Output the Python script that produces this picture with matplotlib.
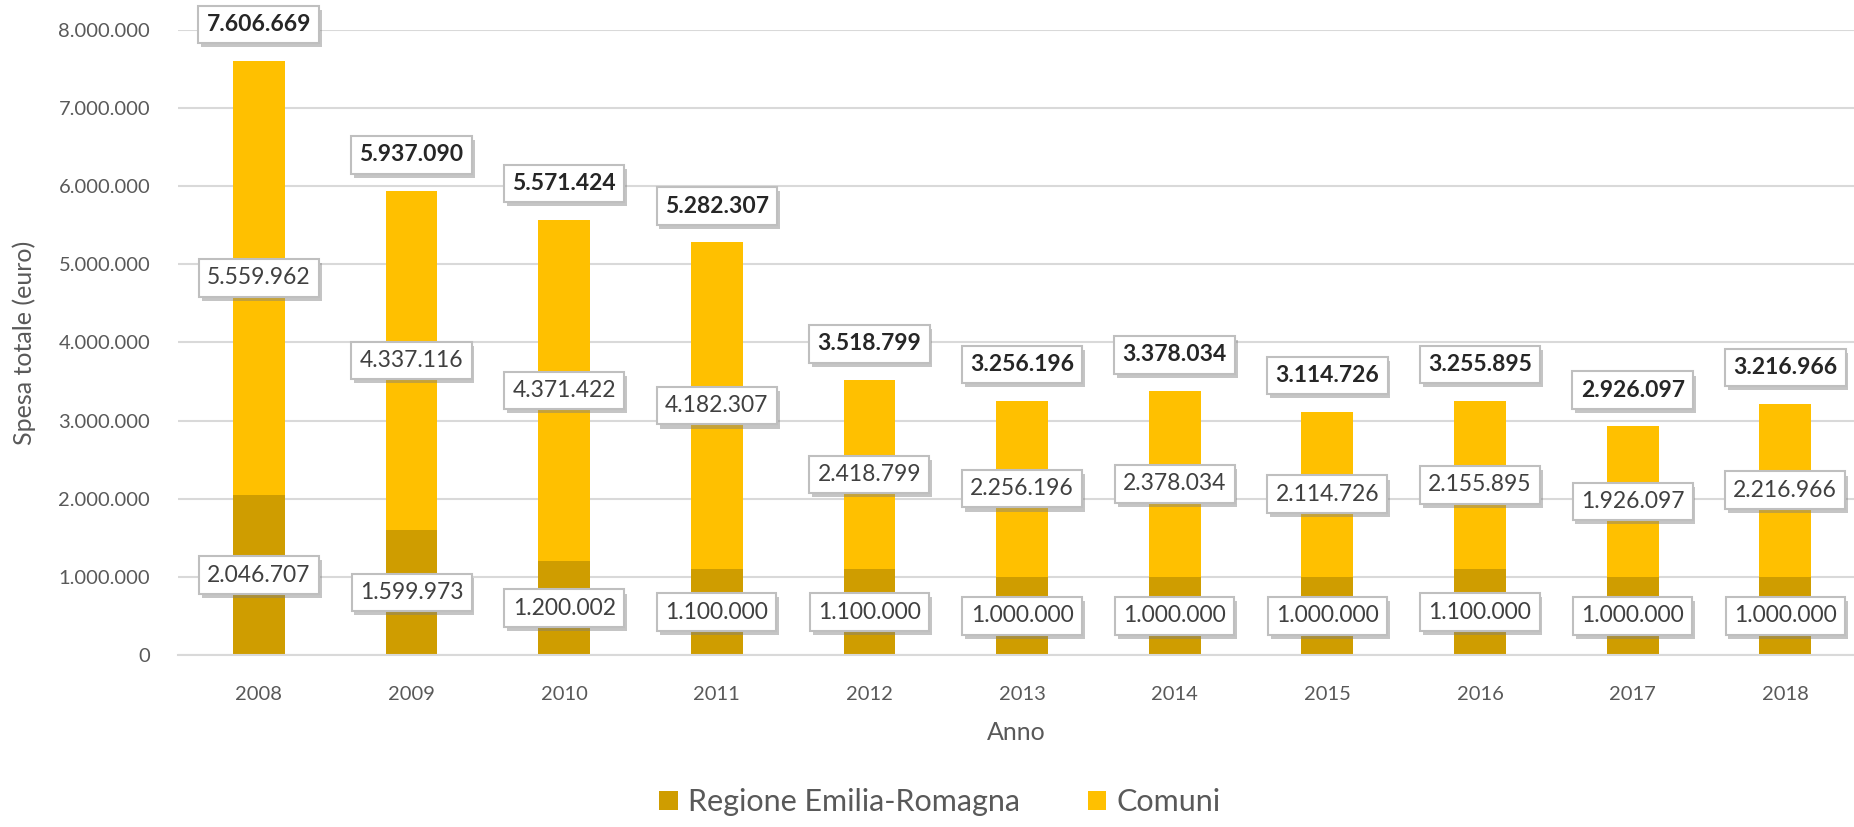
import matplotlib.pyplot as plt
import matplotlib.patheffects as pe
import numpy as np
from matplotlib.ticker import FuncFormatter

plt.rcParams['font.family'] = ['Lato', 'DejaVu Sans']

# dati
anni = ['2008', '2009', '2010', '2011', '2012', '2013', '2014', '2015', '2016', '2017', '2018']
regione = [2046707, 1599973, 1200002, 1100000, 1100000, 1000000, 1000000, 1000000, 1100000, 1000000, 1000000]
comuni = [5559962, 4337116, 4371422, 4182307, 2418799, 2256196, 2378034, 2114726, 2155895, 1926097, 2216966]
totali = [7606669, 5937090, 5571424, 5282307, 3518799, 3256196, 3378034, 3114726, 3255895, 2926097, 3216966]

col_reg = '#CF9D00'
col_com = '#FFC000'
grigio = '#595959'


def fmt(v):
    return f"{int(round(v)):,}".replace(',', '.')


x = np.arange(len(anni))
reg = np.array(regione)
com = np.array(comuni)

fig = plt.figure(figsize=(18.54, 8.27), dpi=100)
ax = fig.add_axes([0.096, 0.208, 0.904, 0.756])

ax.bar(x, reg, width=0.34, color=col_reg, label='Regione Emilia-Romagna', zorder=2)
ax.bar(x, com, width=0.34, bottom=reg, color=col_com, label='Comuni', zorder=2)

ax.set_ylim(0, 8000000)
ax.set_xlim(-0.53, 10.45)
ax.set_yticks(np.arange(0, 8000001, 1000000))
ax.yaxis.set_major_formatter(FuncFormatter(lambda v, p: fmt(v)))
ax.set_xticks(x)
ax.set_xticklabels(anni)
ax.tick_params(axis='both', length=0, labelsize=14.5, colors=grigio)
ax.tick_params(axis='x', pad=22)
ax.tick_params(axis='y', pad=20)
ax.grid(axis='y', color='#D9D9D9', linewidth=1.5, zorder=0)
for s in ['top', 'right', 'left']:
    ax.spines[s].set_visible(False)
ax.spines['bottom'].set_color('#D9D9D9')
ax.spines['bottom'].set_linewidth(1.5)

ax.set_ylabel('Spesa totale (euro)', fontsize=18, color=grigio, labelpad=16)
ax.set_xlabel('Anno', fontsize=18, color=grigio, labelpad=13)

shadow = [pe.SimplePatchShadow(offset=(2, -3), shadow_rgbFace='#7F7F7F', alpha=0.45), pe.Normal()]


def etichetta(xx, yy, testo, bold=False, dy=0):
    t = ax.annotate(testo, (xx, yy), xytext=(0, dy), textcoords='offset points',
                    ha='center', va='center', fontsize=16.5,
                    fontweight='bold' if bold else 'normal',
                    color='#262626' if bold else '#404040', zorder=5,
                    bbox=dict(boxstyle='square,pad=0.36', fc='white', ec='#BFBFBF', lw=1.5))
    t.get_bbox_patch().set_path_effects(shadow)


for i in range(len(anni)):
    etichetta(x[i], reg[i] / 2, fmt(reg[i]))
    etichetta(x[i], reg[i] + com[i] / 2, fmt(com[i]))
    etichetta(x[i], reg[i] + com[i], fmt(totali[i]), bold=True, dy=26)

leg = fig.legend(loc='lower center', bbox_to_anchor=(0.507, -0.02), ncol=2, frameon=False,
                 fontsize=22, handlelength=0.6, handleheight=0.6, columnspacing=2.2,
                 handletextpad=0.35)
for t in leg.get_texts():
    t.set_color(grigio)

fig.savefig('out.png', dpi=100)
